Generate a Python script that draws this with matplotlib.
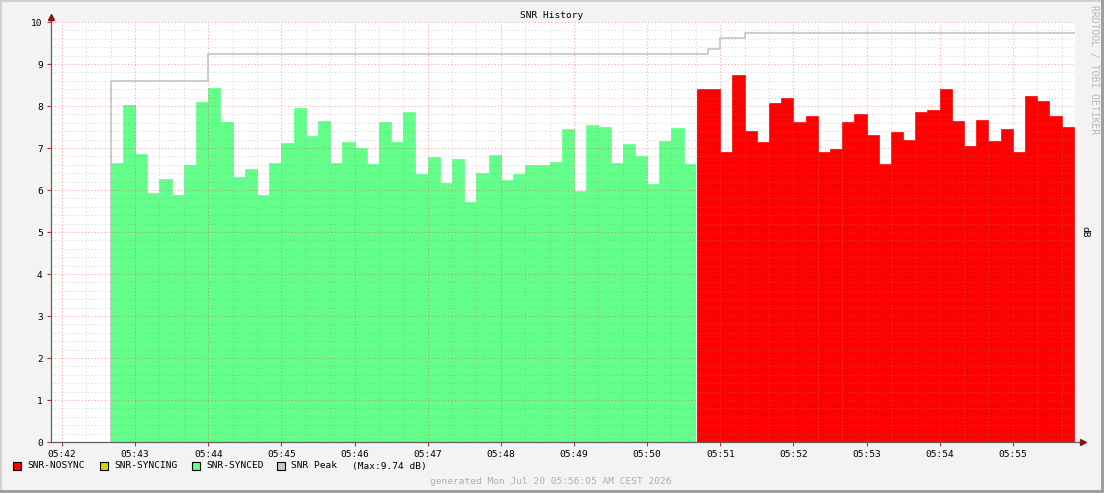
import numpy as np
import matplotlib
matplotlib.use("Agg")
import matplotlib.pyplot as plt
from matplotlib.ticker import MultipleLocator

# Chart data (10 second steps, seconds from 05:42:00)
step = 10
firstSample = 40
synced = [6.64, 8.02, 6.86, 5.93, 6.26, 5.87, 6.60, 8.10, 8.43, 7.62,
          6.32, 6.50, 5.89, 6.64, 7.12, 7.96, 7.29, 7.64, 6.64, 7.14,
          7.00, 6.62, 7.62, 7.14, 7.86, 6.38, 6.79, 6.17, 6.74, 5.71,
          6.40, 6.83, 6.24, 6.39, 6.60, 6.60, 6.67, 7.45, 5.98, 7.55,
          7.50, 6.64, 7.10, 6.81, 6.15, 7.17, 7.48, 6.62]
nosync = [8.40, 8.40, 6.90, 8.74, 7.40, 7.14, 8.07, 8.19, 7.62, 7.76,
          6.90, 6.98, 7.62, 7.81, 7.31, 6.62, 7.38, 7.19, 7.86, 7.90,
          8.40, 7.64, 7.05, 7.67, 7.17, 7.45, 6.90, 8.25, 8.12, 7.76,
          7.50]
peak = [8.59] * 8 + [9.25] * 41 + [9.35] + [9.61] * 2 + [9.74] * 27
tickLabels = ["05:42", "05:43", "05:44", "05:45", "05:46", "05:47", "05:48",
              "05:49", "05:50", "05:51", "05:52", "05:53", "05:54", "05:55"]
legendNames = ["SNR-NOSYNC", "SNR-SYNCING", "SNR-SYNCED", "SNR Peak"]
legendColors = ["#FF0000", "#E0D000", "#62FF8A", "#C8C8C8"]

W, H = 1104, 493
MONO = "DejaVu Sans Mono"


def px(x, y):
    # pixel position -> figure fraction
    return x / W, 1 - y / H


def main():
    fig = plt.figure(figsize=(W / 100, H / 100), dpi=100, facecolor="#F3F3F3")

    # frame shading like rrdtool
    fig.patches.append(plt.Rectangle((0, 0), 1, 1, transform=fig.transFigure,
                                     fill=False, edgecolor="#CFCFCF", lw=2))
    fig.patches.append(plt.Rectangle((1 - 3 / W, 0), 3 / W, 1, transform=fig.transFigure,
                                     color="#9E9E9E", lw=0))
    fig.patches.append(plt.Rectangle((0, 0), 1, 3 / H, transform=fig.transFigure,
                                     color="#9E9E9E", lw=0))

    left, top = px(51, 22)
    right, bottom = px(1075, 442)
    ax = fig.add_axes([left, bottom, right - left, top - bottom])
    ax.set_facecolor("white")

    tSynced = firstSample + step * np.arange(len(synced))
    tNosync = tSynced[-1] + step + step * np.arange(len(nosync))
    ax.bar(tSynced, synced, width=step, align="edge", color="#62FF8A",
           edgecolor="#62FF8A", lw=0.5, zorder=2)
    ax.bar(tNosync, nosync, width=step, align="edge", color="#FF0000",
           edgecolor="#FF0000", lw=0.5, zorder=2)
    # thin white gap where the state changes
    ax.axvline(tNosync[0], color="white", lw=0.8, zorder=2.5)

    # peak as a step line
    tAll = np.r_[tSynced, tNosync]
    sx = np.r_[tAll[0], tAll, tAll[-1] + step]
    sy = np.r_[0, peak, peak[-1]]
    ax.step(sx, sy, where="post", color="#C0C0C0", lw=1.1, zorder=3)

    ax.set_xlim(-9, 831)
    ax.set_ylim(0, 10)

    # grid (semi transparent, drawn over the areas)
    ax.xaxis.set_major_locator(MultipleLocator(60))
    ax.xaxis.set_minor_locator(MultipleLocator(20))
    ax.yaxis.set_major_locator(MultipleLocator(1))
    ax.yaxis.set_minor_locator(MultipleLocator(0.2))
    ax.grid(which="minor", color="#8F8F8F", alpha=0.35, ls=(0, (1, 2)), lw=0.8, zorder=4)
    ax.grid(which="major", color="#F04040", alpha=0.45, ls=(0, (1, 2)), lw=0.8, zorder=4)
    ax.set_axisbelow(False)

    ax.set_xticks(60 * np.arange(len(tickLabels)))
    ax.set_xticklabels(tickLabels, fontfamily=MONO, fontsize=6.8)
    ax.set_yticks(range(11))
    ax.set_yticklabels([str(i) for i in range(11)], fontfamily=MONO, fontsize=6.8)
    ax.tick_params(which="major", length=3, width=0.8, color="#A04040", pad=3)
    ax.tick_params(which="minor", length=0)

    for s in ["top", "right"]:
        ax.spines[s].set_visible(False)
    for s in ["left", "bottom"]:
        ax.spines[s].set_color("#606060")
        ax.spines[s].set_linewidth(0.9)

    # axis arrows
    ax.plot([0, 0], [1, 1.012], transform=ax.transAxes, color="#606060", lw=0.9, clip_on=False)
    ax.plot([1, 1.008], [0, 0], transform=ax.transAxes, color="#606060", lw=0.9, clip_on=False)
    ax.plot(0, 1.013, marker="^", ms=4, color="#801818", transform=ax.transAxes, clip_on=False)
    ax.plot(1.008, 0, marker=">", ms=4, color="#801818", transform=ax.transAxes, clip_on=False)

    # texts
    fig.text(*px(552, 16), "SNR History", ha="center", va="center",
             fontfamily=MONO, fontsize=6.8)
    fig.text(*px(1094, 5), "RRDTOOL / TOBI OETIKER", ha="center", va="top",
             rotation=270, fontfamily=MONO, fontsize=7, color="#B8B8B8")
    fig.text(*px(1085, 232), "dB", ha="center", va="center", rotation=270,
             fontfamily=MONO, fontsize=6.8)
    fig.text(*px(551, 481), "generated Mon Jul 20 05:56:05 AM CEST 2026",
             ha="center", va="center", fontfamily=MONO, fontsize=6.8, color="#B0B0B0")

    # legend
    boxX = [13, 100, 192, 277]
    for x, name, col in zip(boxX, legendNames, legendColors):
        bx, by = px(x, 470)
        fig.patches.append(plt.Rectangle((bx, by), 8 / W, 8 / H, transform=fig.transFigure,
                                         facecolor=col, edgecolor="black", lw=0.8))
        fig.text(*px(x + 14, 466), name, ha="left", va="center",
                 fontfamily=MONO, fontsize=6.8)
    fig.text(*px(352, 466), "(Max:%.2f dB)" % max(peak), ha="left", va="center",
             fontfamily=MONO, fontsize=6.8)

    fig.savefig("out.png", dpi=100, facecolor=fig.get_facecolor())


main()
